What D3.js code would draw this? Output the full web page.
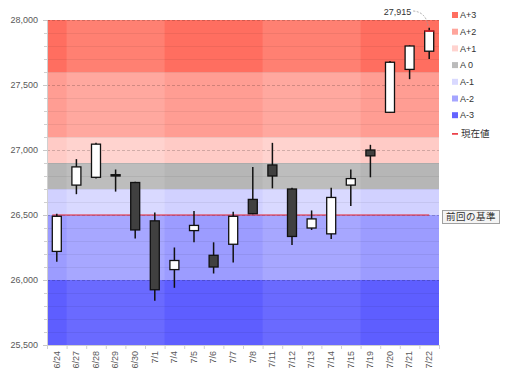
<!DOCTYPE html>
<html><head><meta charset="utf-8">
<script src="https://cdn.jsdelivr.net/npm/d3@7/dist/d3.min.js"></script>
<style>
html,body{margin:0;padding:0;background:#fff;}
svg{display:block;font-family:"Liberation Sans",Arial,sans-serif;}
</style></head>
<body>
<svg id="chart" width="507" height="380"></svg>
<script>
const dates = ["6/24","6/27","6/28","6/29","6/30","7/1","7/4","7/5","7/6","7/7","7/8","7/11","7/12","7/13","7/14","7/15","7/19","7/20","7/21","7/22"];
const openVals  = [26220,26730,26790,26810,26750,26455,26080,26380,26190,26275,26620,26885,26700,26400,26355,26730,27000,27290,27620,27760];
const highVals  = [26510,26930,27055,26850,26755,26520,26250,26530,26290,26525,26870,27055,26710,26535,26710,26850,27040,27685,27805,27940];
const lowVals   = [26140,26660,26780,26680,26320,25840,25940,26290,26050,26135,26505,26705,26270,26385,26315,26570,26790,27285,27545,27700];
const closeVals = [26490,26870,27045,26800,26385,25925,26150,26420,26100,26490,26510,26800,26335,26470,26635,26780,26955,27675,27800,27915];

const bandNames  = ["A+3","A+2","A+1","A 0","A-1","A-2","A-3"];
const bandTop    = [28000,27600,27100,26900,26700,26500,26000];
const bandBottom = [27600,27100,26900,26700,26500,26000,25500];
const bandLight  = ["#ff8072","#ffa89f","#ffd3cf","#bdbdbd","#d9d9ff","#a7a7ff","#6a6aff"];
const bandDark   = ["#ff6e60","#ff9d93","#ffcbc6","#b6b6b6","#d1d1ff","#9c9cff","#5e5eff"];
const legendColors = ["#ff6e60","#ffa59c","#ffd3cf","#bbbbbb","#d9d9ff","#a5a5ff","#6464ff"];
const shadedWeeks = [["6/24","6/24"],["7/4","7/8"],["7/19","7/22"]];

const yTicks = [25500,26000,26500,27000,27500,28000];
const minorStep = 100;
const currentValue = 26500;
const currentLabel = "現在値";
const baseLabel = "前回の基準";
const lastLabel = "27,915";

const svg = d3.select("#chart");
const L = 47, R = 439, T = 20, B = 345;
const x = d3.scaleBand().domain(dates).range([L, R]).padding(0);
const y = d3.scaleLinear().domain([25500, 28000]).range([B, T]);
const bw = 9;

// bands
const gB = svg.append("g");
bandNames.forEach((n, i) => {
  gB.append("rect").attr("x", L).attr("width", R - L)
    .attr("y", y(bandTop[i])).attr("height", y(bandBottom[i]) - y(bandTop[i]))
    .attr("fill", bandLight[i]);
  shadedWeeks.forEach(w => {
    const x0 = x(w[0]), x1 = x(w[1]) + x.bandwidth();
    gB.append("rect").attr("x", x0).attr("width", x1 - x0)
      .attr("y", y(bandTop[i])).attr("height", y(bandBottom[i]) - y(bandTop[i]))
      .attr("fill", bandDark[i]);
  });
});

// grid
const minor = d3.range(25600, 28000, minorStep).filter(v => v % 500 !== 0);
svg.append("g").selectAll("line").data(minor).join("line")
  .attr("x1", L).attr("x2", R).attr("y1", d => y(d) + 0.5).attr("y2", d => y(d) + 0.5)
  .attr("stroke", "rgba(0,0,0,0.06)").attr("stroke-width", 1);
svg.append("g").selectAll("line").data(yTicks.filter(v => v > 25500)).join("line")
  .attr("x1", L).attr("x2", R).attr("y1", d => y(d) + 0.5).attr("y2", d => y(d) + 0.5)
  .attr("stroke", "rgba(0,0,0,0.18)").attr("stroke-width", 1).attr("stroke-dasharray", "3,2");

// y axis
const yAxis = d3.axisLeft(y).tickValues(yTicks).tickFormat(d3.format(",")).tickSize(4).tickPadding(5);
const gy = svg.append("g").attr("transform", `translate(${L},0)`).call(yAxis);
gy.select(".domain").attr("stroke", "#d0d0d0");
gy.selectAll(".tick line").attr("stroke", "#c8c8c8");
gy.selectAll("text").attr("fill", "#595959").attr("font-size", "9px");
const yMinor = d3.axisLeft(y).tickValues(minor).tickSize(3).tickFormat("");
const gym = svg.append("g").attr("transform", `translate(${L},0)`).call(yMinor);
gym.select(".domain").remove();
gym.selectAll(".tick line").attr("stroke", "#d0d0d0");

// x axis
const xAxis = d3.axisBottom(x).tickSize(0).tickPadding(5);
const gx = svg.append("g").attr("transform", `translate(0,${B})`).call(xAxis);
gx.select(".domain").attr("stroke", "#d0d0d0");
gx.selectAll(".tick text").attr("fill", "#595959").attr("font-size", "9px")
  .attr("transform", "rotate(-90)").attr("text-anchor", "end")
  .attr("x", -6).attr("y", 0).attr("dy", "0.32em");
svg.append("g").selectAll("line").data(dates.concat(["_end"])).join("line")
  .attr("x1", (d, i) => L + i * x.bandwidth() + 0.5).attr("x2", (d, i) => L + i * x.bandwidth() + 0.5)
  .attr("y1", B).attr("y2", B + 4).attr("stroke", "#d0d0d0");

// current value line
svg.append("line")
  .attr("x1", x(dates[0]) + x.bandwidth() / 2 - bw / 2).attr("x2", x(dates[dates.length - 1]) + x.bandwidth() / 2)
  .attr("y1", y(currentValue)).attr("y2", y(currentValue))
  .attr("stroke", "#e8202a").attr("stroke-width", 1.2);

// candles
const gC = svg.append("g");
dates.forEach((d, i) => {
  const cx = x(d) + x.bandwidth() / 2;
  const o = openVals[i], c = closeVals[i], h = highVals[i], l = lowVals[i];
  const up = c >= o;
  gC.append("line").attr("x1", cx).attr("x2", cx).attr("y1", y(h)).attr("y2", y(l))
    .attr("stroke", "#111").attr("stroke-width", 1.5);
  const top = y(Math.max(o, c)), bot = y(Math.min(o, c));
  gC.append("rect").attr("x", cx - bw / 2).attr("width", bw)
    .attr("y", top).attr("height", Math.max(1, bot - top))
    .attr("fill", up ? "#ffffff" : "#404040").attr("stroke", "#111").attr("stroke-width", 1.3);
});
// last close marker
{
  const i = dates.length - 1;
  const cx = x(dates[i]) + x.bandwidth() / 2;
  svg.append("line").attr("x1", cx - bw / 2).attr("x2", cx + bw / 2)
    .attr("y1", y(closeVals[i])).attr("y2", y(closeVals[i]))
    .attr("stroke", "#e8202a").attr("stroke-width", 1.5);
  const tx = cx - 18, ty = 12;
  svg.append("text").attr("x", tx).attr("y", ty).attr("text-anchor", "end").attr("dy", "0.35em")
    .attr("font-size", "9px").attr("fill", "#333").text(lastLabel);
  svg.append("path")
    .attr("d", `M${tx + 2},${ty - 1} Q${cx - 3},${ty} ${cx - 1},${y(highVals[i]) - 1}`)
    .attr("fill", "none").attr("stroke", "#999").attr("stroke-width", 0.8).attr("stroke-dasharray", "2,1.5");
}

// base label
const by = y(currentValue);
svg.append("rect").attr("x", 442.5).attr("y", by - 4.5).attr("width", 57).attr("height", 13)
  .attr("fill", "#f4f4f4").attr("stroke", "#a0a0a0").attr("stroke-width", 1);
svg.append("text").attr("x", 471).attr("y", by + 2).attr("dy", "0.35em").attr("text-anchor", "middle")
  .attr("font-size", "9.5px").attr("fill", "#333").attr("letter-spacing", "0.5px")
  .attr("font-family", "'Noto Sans CJK JP',sans-serif").text(baseLabel);

// legend
const gL = svg.append("g").attr("transform", "translate(452,15)");
bandNames.forEach((n, i) => {
  const g = gL.append("g").attr("transform", `translate(0,${i * 16.7})`);
  g.append("rect").attr("x", 0).attr("y", -3).attr("width", 6).attr("height", 6).attr("fill", legendColors[i]);
  g.append("text").attr("x", 8).attr("y", 0).attr("dy", "0.35em").attr("font-size", "9px").attr("fill", "#333").text(n);
});
{
  const g = gL.append("g").attr("transform", `translate(0,${7 * 16.7 + 2})`);
  g.append("line").attr("x1", 0).attr("x2", 6).attr("y1", 0).attr("y2", 0).attr("stroke", "#e8202a").attr("stroke-width", 1.5);
  g.append("text").attr("x", 9).attr("y", 0).attr("dy", "0.35em").attr("font-size", "9.5px").attr("fill", "#333")
    .attr("font-family", "'Noto Sans CJK JP',sans-serif").text(currentLabel);
}
</script>
</body></html>
